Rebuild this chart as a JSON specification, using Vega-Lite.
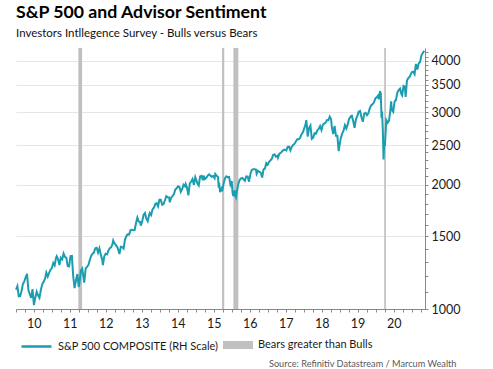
{
  "$schema": "https://vega.github.io/schema/vega-lite/v6.json",
  "autosize": "none",
  "width": 409,
  "height": 261,
  "padding": {"left": 16, "top": 48, "right": 68, "bottom": 60},
  "background": "white",
  "title": {
    "text": "S&P 500 and Advisor Sentiment",
    "subtitle": "Investors Intllegence Survey - Bulls versus Bears",
    "anchor": "start",
    "frame": "group",
    "font": "Lato",
    "fontSize": 17.7,
    "fontWeight": "bold",
    "color": "#000000",
    "subtitleFont": "Lato",
    "subtitleFontSize": 11.5,
    "subtitleColor": "#111111",
    "subtitlePadding": 6.5,
    "offset": 6.5
  },
  "datasets": {
    "bears": [
      {"start": "2011-09-26", "end": "2011-11-03"},
      {"start": "2015-09-24", "end": "2015-10-16"},
      {"start": "2016-01-17", "end": "2016-03-07"},
      {"start": "2020-03-27", "end": "2020-04-13"}
    ],
    "sp": [
      {"date": "2010-01-01", "close": 1115}, {"date": "2010-01-15", "close": 1136}, {"date": "2010-01-29", "close": 1073}, {"date": "2010-02-12", "close": 1075}, {"date": "2010-02-26", "close": 1104}, {"date": "2010-03-12", "close": 1149}, {"date": "2010-03-26", "close": 1167}, {"date": "2010-04-09", "close": 1194}, {"date": "2010-04-23", "close": 1217}, {"date": "2010-05-07", "close": 1110}, {"date": "2010-05-21", "close": 1087}, {"date": "2010-06-04", "close": 1064}, {"date": "2010-06-18", "close": 1117}, {"date": "2010-07-02", "close": 1022}, {"date": "2010-07-16", "close": 1065}, {"date": "2010-07-30", "close": 1101}, {"date": "2010-08-13", "close": 1079}, {"date": "2010-08-27", "close": 1064}, {"date": "2010-09-10", "close": 1110}, {"date": "2010-09-24", "close": 1148}, {"date": "2010-10-08", "close": 1165}, {"date": "2010-10-22", "close": 1183}, {"date": "2010-11-05", "close": 1225}, {"date": "2010-11-19", "close": 1199}, {"date": "2010-12-03", "close": 1224}, {"date": "2010-12-17", "close": 1243}, {"date": "2010-12-31", "close": 1258},
      {"date": "2011-01-14", "close": 1293}, {"date": "2011-01-28", "close": 1276}, {"date": "2011-02-11", "close": 1329}, {"date": "2011-02-18", "close": 1343}, {"date": "2011-03-04", "close": 1321}, {"date": "2011-03-18", "close": 1279}, {"date": "2011-04-01", "close": 1332}, {"date": "2011-04-15", "close": 1320}, {"date": "2011-04-29", "close": 1364}, {"date": "2011-05-13", "close": 1338}, {"date": "2011-05-27", "close": 1331}, {"date": "2011-06-10", "close": 1271}, {"date": "2011-06-24", "close": 1268}, {"date": "2011-07-08", "close": 1344}, {"date": "2011-07-22", "close": 1345}, {"date": "2011-08-05", "close": 1199}, {"date": "2011-08-19", "close": 1124}, {"date": "2011-09-02", "close": 1174}, {"date": "2011-09-16", "close": 1216}, {"date": "2011-09-30", "close": 1131}, {"date": "2011-10-07", "close": 1155}, {"date": "2011-10-21", "close": 1238}, {"date": "2011-11-04", "close": 1253}, {"date": "2011-11-25", "close": 1159}, {"date": "2011-12-09", "close": 1255}, {"date": "2011-12-23", "close": 1265},
      {"date": "2012-01-06", "close": 1278}, {"date": "2012-01-20", "close": 1315}, {"date": "2012-02-03", "close": 1345}, {"date": "2012-02-17", "close": 1362}, {"date": "2012-03-02", "close": 1370}, {"date": "2012-03-16", "close": 1404}, {"date": "2012-03-30", "close": 1408}, {"date": "2012-04-13", "close": 1370}, {"date": "2012-04-27", "close": 1403}, {"date": "2012-05-11", "close": 1353}, {"date": "2012-05-25", "close": 1318}, {"date": "2012-06-01", "close": 1278}, {"date": "2012-06-15", "close": 1343}, {"date": "2012-06-29", "close": 1362}, {"date": "2012-07-13", "close": 1357}, {"date": "2012-07-27", "close": 1386}, {"date": "2012-08-10", "close": 1405}, {"date": "2012-08-24", "close": 1411}, {"date": "2012-09-07", "close": 1438}, {"date": "2012-09-14", "close": 1466}, {"date": "2012-09-28", "close": 1441}, {"date": "2012-10-12", "close": 1429}, {"date": "2012-10-26", "close": 1412}, {"date": "2012-11-09", "close": 1380}, {"date": "2012-11-16", "close": 1359}, {"date": "2012-11-30", "close": 1416}, {"date": "2012-12-14", "close": 1413}, {"date": "2012-12-28", "close": 1402},
      {"date": "2013-01-11", "close": 1472}, {"date": "2013-01-25", "close": 1503}, {"date": "2013-02-08", "close": 1518}, {"date": "2013-02-22", "close": 1516}, {"date": "2013-03-08", "close": 1552}, {"date": "2013-03-22", "close": 1556}, {"date": "2013-04-05", "close": 1553}, {"date": "2013-04-19", "close": 1555}, {"date": "2013-05-03", "close": 1614}, {"date": "2013-05-17", "close": 1667}, {"date": "2013-05-31", "close": 1631}, {"date": "2013-06-14", "close": 1626}, {"date": "2013-06-21", "close": 1593}, {"date": "2013-07-05", "close": 1632}, {"date": "2013-07-19", "close": 1692}, {"date": "2013-08-02", "close": 1710}, {"date": "2013-08-16", "close": 1656}, {"date": "2013-08-30", "close": 1633}, {"date": "2013-09-13", "close": 1688}, {"date": "2013-09-20", "close": 1710}, {"date": "2013-10-04", "close": 1691}, {"date": "2013-10-18", "close": 1745}, {"date": "2013-11-01", "close": 1762}, {"date": "2013-11-15", "close": 1798}, {"date": "2013-11-29", "close": 1806}, {"date": "2013-12-13", "close": 1775}, {"date": "2013-12-27", "close": 1841},
      {"date": "2014-01-10", "close": 1842}, {"date": "2014-01-24", "close": 1790}, {"date": "2014-02-07", "close": 1797}, {"date": "2014-02-21", "close": 1836}, {"date": "2014-03-07", "close": 1878}, {"date": "2014-03-21", "close": 1866}, {"date": "2014-04-04", "close": 1865}, {"date": "2014-04-11", "close": 1815}, {"date": "2014-04-25", "close": 1863}, {"date": "2014-05-09", "close": 1878}, {"date": "2014-05-23", "close": 1900}, {"date": "2014-06-06", "close": 1949}, {"date": "2014-06-20", "close": 1963}, {"date": "2014-07-04", "close": 1985}, {"date": "2014-07-18", "close": 1978}, {"date": "2014-08-01", "close": 1925}, {"date": "2014-08-15", "close": 1955}, {"date": "2014-08-29", "close": 2003}, {"date": "2014-09-12", "close": 1985}, {"date": "2014-09-19", "close": 2011}, {"date": "2014-10-03", "close": 1968}, {"date": "2014-10-17", "close": 1887}, {"date": "2014-10-31", "close": 2018}, {"date": "2014-11-14", "close": 2039}, {"date": "2014-11-28", "close": 2068}, {"date": "2014-12-12", "close": 2002}, {"date": "2014-12-26", "close": 2089},
      {"date": "2015-01-09", "close": 2044}, {"date": "2015-01-16", "close": 2019}, {"date": "2015-01-30", "close": 1995}, {"date": "2015-02-13", "close": 2097}, {"date": "2015-02-27", "close": 2105}, {"date": "2015-03-13", "close": 2053}, {"date": "2015-03-20", "close": 2108}, {"date": "2015-04-02", "close": 2067}, {"date": "2015-04-17", "close": 2081}, {"date": "2015-05-01", "close": 2108}, {"date": "2015-05-15", "close": 2123}, {"date": "2015-05-29", "close": 2107}, {"date": "2015-06-12", "close": 2094}, {"date": "2015-06-26", "close": 2102}, {"date": "2015-07-10", "close": 2077}, {"date": "2015-07-17", "close": 2127}, {"date": "2015-07-31", "close": 2104}, {"date": "2015-08-14", "close": 2092}, {"date": "2015-08-21", "close": 1971}, {"date": "2015-08-28", "close": 1989}, {"date": "2015-09-04", "close": 1921}, {"date": "2015-09-18", "close": 1958}, {"date": "2015-09-25", "close": 1931}, {"date": "2015-10-09", "close": 2015}, {"date": "2015-10-23", "close": 2075}, {"date": "2015-11-06", "close": 2099}, {"date": "2015-11-20", "close": 2089}, {"date": "2015-12-04", "close": 2092}, {"date": "2015-12-18", "close": 2006}, {"date": "2015-12-31", "close": 2044},
      {"date": "2016-01-08", "close": 1922}, {"date": "2016-01-15", "close": 1880}, {"date": "2016-01-22", "close": 1907}, {"date": "2016-01-29", "close": 1940}, {"date": "2016-02-05", "close": 1880}, {"date": "2016-02-12", "close": 1865}, {"date": "2016-02-19", "close": 1918}, {"date": "2016-03-04", "close": 2000}, {"date": "2016-03-18", "close": 2050}, {"date": "2016-04-01", "close": 2073}, {"date": "2016-04-15", "close": 2081}, {"date": "2016-04-29", "close": 2065}, {"date": "2016-05-13", "close": 2047}, {"date": "2016-05-27", "close": 2099}, {"date": "2016-06-10", "close": 2096}, {"date": "2016-06-24", "close": 2037}, {"date": "2016-07-08", "close": 2130}, {"date": "2016-07-22", "close": 2175}, {"date": "2016-08-05", "close": 2183}, {"date": "2016-08-19", "close": 2184}, {"date": "2016-09-02", "close": 2180}, {"date": "2016-09-09", "close": 2128}, {"date": "2016-09-23", "close": 2165}, {"date": "2016-10-07", "close": 2153}, {"date": "2016-10-21", "close": 2141}, {"date": "2016-11-04", "close": 2085}, {"date": "2016-11-18", "close": 2182}, {"date": "2016-12-02", "close": 2192}, {"date": "2016-12-16", "close": 2259}, {"date": "2016-12-30", "close": 2239},
      {"date": "2017-01-13", "close": 2275}, {"date": "2017-01-27", "close": 2295}, {"date": "2017-02-10", "close": 2316}, {"date": "2017-02-24", "close": 2367}, {"date": "2017-03-10", "close": 2373}, {"date": "2017-03-24", "close": 2344}, {"date": "2017-04-07", "close": 2355}, {"date": "2017-04-13", "close": 2329}, {"date": "2017-04-28", "close": 2384}, {"date": "2017-05-12", "close": 2391}, {"date": "2017-05-26", "close": 2416}, {"date": "2017-06-09", "close": 2432}, {"date": "2017-06-23", "close": 2438}, {"date": "2017-07-07", "close": 2425}, {"date": "2017-07-21", "close": 2473}, {"date": "2017-08-04", "close": 2477}, {"date": "2017-08-18", "close": 2426}, {"date": "2017-09-01", "close": 2477}, {"date": "2017-09-15", "close": 2500}, {"date": "2017-09-29", "close": 2519}, {"date": "2017-10-13", "close": 2553}, {"date": "2017-10-27", "close": 2581}, {"date": "2017-11-10", "close": 2582}, {"date": "2017-11-24", "close": 2602}, {"date": "2017-12-08", "close": 2652}, {"date": "2017-12-22", "close": 2684},
      {"date": "2018-01-05", "close": 2743}, {"date": "2018-01-19", "close": 2810}, {"date": "2018-01-26", "close": 2873}, {"date": "2018-02-02", "close": 2762}, {"date": "2018-02-09", "close": 2620}, {"date": "2018-02-23", "close": 2747}, {"date": "2018-03-09", "close": 2786}, {"date": "2018-03-23", "close": 2588}, {"date": "2018-04-06", "close": 2604}, {"date": "2018-04-20", "close": 2670}, {"date": "2018-05-04", "close": 2663}, {"date": "2018-05-18", "close": 2713}, {"date": "2018-06-01", "close": 2735}, {"date": "2018-06-15", "close": 2780}, {"date": "2018-06-29", "close": 2718}, {"date": "2018-07-13", "close": 2801}, {"date": "2018-07-27", "close": 2819}, {"date": "2018-08-10", "close": 2833}, {"date": "2018-08-24", "close": 2875}, {"date": "2018-09-07", "close": 2872}, {"date": "2018-09-21", "close": 2930}, {"date": "2018-10-05", "close": 2886}, {"date": "2018-10-12", "close": 2767}, {"date": "2018-10-26", "close": 2658}, {"date": "2018-11-09", "close": 2781}, {"date": "2018-11-23", "close": 2633}, {"date": "2018-12-07", "close": 2633}, {"date": "2018-12-21", "close": 2417}, {"date": "2018-12-28", "close": 2486},
      {"date": "2019-01-11", "close": 2596}, {"date": "2019-01-25", "close": 2665}, {"date": "2019-02-08", "close": 2708}, {"date": "2019-02-22", "close": 2793}, {"date": "2019-03-08", "close": 2743}, {"date": "2019-03-22", "close": 2801}, {"date": "2019-04-05", "close": 2893}, {"date": "2019-04-26", "close": 2940}, {"date": "2019-05-03", "close": 2946}, {"date": "2019-05-17", "close": 2860}, {"date": "2019-05-31", "close": 2752}, {"date": "2019-06-14", "close": 2887}, {"date": "2019-06-28", "close": 2942}, {"date": "2019-07-12", "close": 3014}, {"date": "2019-07-26", "close": 3026}, {"date": "2019-08-09", "close": 2919}, {"date": "2019-08-23", "close": 2847}, {"date": "2019-09-06", "close": 2979}, {"date": "2019-09-20", "close": 2992}, {"date": "2019-10-04", "close": 2953}, {"date": "2019-10-18", "close": 2986}, {"date": "2019-11-01", "close": 3067}, {"date": "2019-11-15", "close": 3120}, {"date": "2019-11-29", "close": 3141}, {"date": "2019-12-13", "close": 3169}, {"date": "2019-12-27", "close": 3240},
      {"date": "2020-01-10", "close": 3265}, {"date": "2020-01-24", "close": 3295}, {"date": "2020-01-31", "close": 3226}, {"date": "2020-02-14", "close": 3380}, {"date": "2020-02-21", "close": 3338}, {"date": "2020-02-28", "close": 2954}, {"date": "2020-03-06", "close": 2972}, {"date": "2020-03-13", "close": 2711}, {"date": "2020-03-20", "close": 2305}, {"date": "2020-03-27", "close": 2541}, {"date": "2020-04-03", "close": 2489}, {"date": "2020-04-17", "close": 2875}, {"date": "2020-05-01", "close": 2831}, {"date": "2020-05-15", "close": 2864}, {"date": "2020-05-29", "close": 3044}, {"date": "2020-06-05", "close": 3194}, {"date": "2020-06-12", "close": 3041}, {"date": "2020-06-26", "close": 3009}, {"date": "2020-07-10", "close": 3185}, {"date": "2020-07-24", "close": 3216}, {"date": "2020-08-07", "close": 3351}, {"date": "2020-08-21", "close": 3397}, {"date": "2020-09-04", "close": 3427}, {"date": "2020-09-18", "close": 3319}, {"date": "2020-09-25", "close": 3298}, {"date": "2020-10-09", "close": 3477}, {"date": "2020-10-23", "close": 3465}, {"date": "2020-10-30", "close": 3270}, {"date": "2020-11-13", "close": 3585}, {"date": "2020-11-27", "close": 3638}, {"date": "2020-12-11", "close": 3663}, {"date": "2020-12-31", "close": 3756},
      {"date": "2021-01-15", "close": 3768}, {"date": "2021-01-29", "close": 3714}, {"date": "2021-02-12", "close": 3934}, {"date": "2021-02-26", "close": 3811}, {"date": "2021-03-12", "close": 3943}, {"date": "2021-03-26", "close": 3975}, {"date": "2021-04-09", "close": 4129}, {"date": "2021-04-23", "close": 4180}, {"date": "2021-05-07", "close": 4233}
    ]
  },
  "layer": [
    {
      "data": {"name": "bears"},
      "mark": {"type": "rect", "opacity": 1, "strokeWidth": 0},
      "encoding": {
        "x": {"field": "start", "type": "temporal"},
        "x2": {"field": "end"},
        "fill": {
          "datum": "Bears greater than Bulls",
          "scale": {"domain": ["Bears greater than Bulls"], "range": ["#c0c0c0"]},
          "legend": {
            "orient": "none",
            "legendX": 207,
            "legendY": 282,
            "direction": "horizontal",
            "title": null,
            "labelFont": "Lato",
            "labelFontSize": 11,
            "labelColor": "#1a1a1a",
            "labelLimit": 300,
            "symbolType": "M-1,-0.27H1V0.27H-1Z",
            "symbolSize": 900,
            "symbolStrokeWidth": 0,
            "symbolOpacity": 1,
            "labelOffset": 5
          }
        }
      }
    },
    {
      "data": {"name": "sp"},
      "mark": {"type": "line", "strokeWidth": 2, "interpolate": "linear"},
      "encoding": {
        "x": {
          "field": "date",
          "type": "temporal",
          "scale": {"type": "utc", "domain": [{"year": 2010, "month": 1, "date": 1, "utc": true}, {"year": 2021, "month": 5, "date": 15, "utc": true}]},
          "axis": {
            "title": "Source: Refinitiv Datastream / Marcum Wealth",
            "titleFont": "Lato",
            "titleX": 440,
            "titleY": 57,
            "titleAlign": "right",
            "titleAnchor": null,
            "titleBaseline": "alphabetic",
            "titleFontSize": 9.2,
            "titleFontWeight": "normal",
            "titleColor": "#595959",
            "tickCount": {"interval": "month", "step": 3},
            "labelExpr": "utcmonth(datum.value) === 6 ? utcFormat(datum.value, '%y') : ''",
            "labelOverlap": false,
            "labelFlush": false,
            "labelFont": "Lato",
            "labelFontSize": 12.5,
            "labelColor": "#1a1a1a",
            "labelPadding": 5,
            "tickSize": 3,
            "tickColor": "#888888",
            "domainColor": "#888888",
            "grid": false
          }
        },
        "y": {
          "field": "close",
          "type": "quantitative",
          "scale": {"type": "log", "domain": [1000, 4300], "nice": false},
          "axis": {
            "orient": "right",
            "title": null,
            "values": [1000, 1100, 1200, 1300, 1400, 1500, 1600, 1700, 1800, 1900, 2000, 2100, 2200, 2300, 2400, 2500, 2600, 2700, 2800, 2900, 3000, 3100, 3200, 3300, 3400, 3500, 3600, 3700, 3800, 3900, 4000, 4100, 4200],
            "labelExpr": "datum.value % 500 === 0 ? datum.value : ''",
            "labelOverlap": false,
            "labelFlush": false,
            "labelFont": "Lato",
            "labelFontSize": 12.5,
            "labelColor": "#1a1a1a",
            "labelPadding": 3,
            "tickSize": 3,
            "tickColor": "#888888",
            "domainColor": "#888888",
            "grid": true,
            "gridColor": "#e6e6e6",
            "gridOpacity": {"condition": {"test": "datum.value % 500 === 0 && datum.value > 1000", "value": 1}, "value": 0}
          }
        },
        "stroke": {
          "datum": "S&P 500 COMPOSITE (RH Scale)",
          "scale": {"domain": ["S&P 500 COMPOSITE (RH Scale)"], "range": ["#1a9db0"]},
          "legend": {
            "orient": "none",
            "legendX": 4,
            "legendY": 282,
            "direction": "horizontal",
            "title": null,
            "labelFont": "Lato",
            "labelFontSize": 11,
            "labelColor": "#1a1a1a",
            "labelLimit": 300,
            "symbolType": "M-1,0H1",
            "symbolSize": 900,
            "symbolStrokeWidth": 2.5,
            "symbolOpacity": 1,
            "labelOffset": 5
          }
        }
      }
    }
  ],
  "resolve": {"scale": {"stroke": "independent", "fill": "independent"}},
  "config": {
    "font": "Lato",
    "view": {"stroke": null}
  }
}
